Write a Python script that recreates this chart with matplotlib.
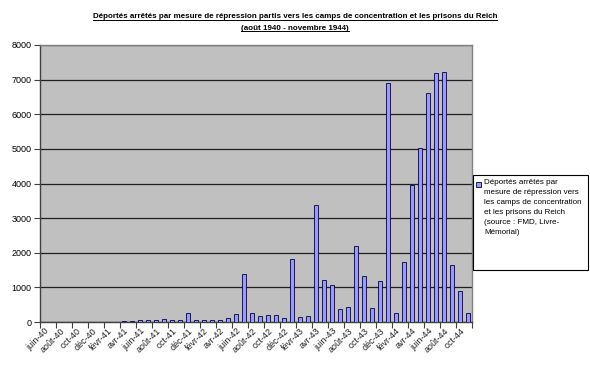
import matplotlib
matplotlib.use("Agg")
import matplotlib.pyplot as plt
from matplotlib.patches import Rectangle
from matplotlib.lines import Line2D

plt.rcParams['font.family'] = ['Liberation Sans', 'DejaVu Sans']

months = ["janv", "févr", "mars", "avr", "mai", "juin", "juil", "août", "sept", "oct", "nov", "déc"]
categories = []
for yr in range(40, 45):
    for m in months:
        categories.append(f"{m}-{yr}")
categories = categories[categories.index("juin-40"):categories.index("nov-44") + 1]

values = [0, 0, 0, 0, 0, 0, 0, 0, 0, 0,
          30, 30, 50, 70, 70, 90, 60, 50, 270, 60,
          60, 60, 60, 105, 230, 1375, 270, 165, 190, 190,
          115, 1810, 145, 175, 3370, 1215, 1070, 375, 433, 2195,
          1320, 395, 1195, 6915, 250, 1735, 3950, 5035, 6605, 7185,
          7225, 1640, 890, 250]

title_lines = ["Déportés arrêtés par mesure de répression partis vers les camps de concentration et les prisons du Reich",
               "(août 1940 - novembre 1944)"]
legend_label = ("Déportés arrêtés par\nmesure de répression vers\nles camps de concentration\n"
                "et les prisons du Reich\n(source : FMD, Livre-\nMémorial)")
yticks = list(range(0, 8001, 1000))

W, H = 590, 367
fig = plt.figure(figsize=(W / 100, H / 100), dpi=100)
fig.patch.set_facecolor("white")
ax = fig.add_axes([40 / W, 1 - 322 / H, 432 / W, 277 / H])
ax.set_facecolor("#C0C0C0")

bar_fc, bar_ec = "#9999FF", "#000040"
x = list(range(len(categories)))
ax.bar(x, values, width=0.4, color=bar_fc, edgecolor=bar_ec, linewidth=0.6, zorder=3)

ax.set_xlim(-0.5, len(categories) - 0.5)
ax.set_ylim(0, 8000)
ax.set_yticks(yticks)
ax.set_yticklabels([str(t) for t in yticks], fontsize=6.5)
ax.yaxis.grid(True, color="#202020", linewidth=0.9, zorder=1)
ax.set_axisbelow(True)

# x tick labels every 2 categories, tick marks at boundaries
ax.set_xticks(x[::2])
ax.set_xticklabels(categories[::2], rotation=45, ha="right", va="top",
                   rotation_mode="anchor", fontsize=6.5, color="#202020")
ax.tick_params(axis="x", length=0, pad=3)
ax.set_xticks([i - 0.5 for i in range(0, len(categories) + 1, 2)], minor=True)
ax.tick_params(axis="x", which="minor", length=4, color="#404040", width=0.8)
ax.tick_params(axis="y", length=4, color="#404040", width=0.8, pad=2)

for s in ax.spines.values():
    s.set_color("#808080")
    s.set_linewidth(1.0)
ax.spines["left"].set_color("#404040")
ax.spines["bottom"].set_color("#404040")

# title with underline
t1 = fig.text(0.5, 1 - 17 / H, title_lines[0], ha="center", va="center", fontsize=5.8,
              fontweight="bold")
t2 = fig.text(0.5, 1 - 28 / H, title_lines[1], ha="center", va="center", fontsize=5.8,
              fontweight="bold")
fig.canvas.draw()
r = fig.canvas.get_renderer()
for t in (t1, t2):
    bb = t.get_window_extent(r)
    yline = bb.y0 + 0.8
    fig.add_artist(Line2D([bb.x0 / W, bb.x1 / W], [yline / H, yline / H],
                          color="black", linewidth=0.7, transform=fig.transFigure))

# manual legend (Excel style)
fig.add_artist(Rectangle((473 / W, 1 - 270 / H), 115 / W, 95 / H, transform=fig.transFigure,
                         facecolor="white", edgecolor="black", linewidth=0.8))
fig.add_artist(Rectangle((476 / W, 1 - 187 / H), 5 / W, 5 / H, transform=fig.transFigure,
                         facecolor=bar_fc, edgecolor=bar_ec, linewidth=0.6))
fig.text(484 / W, 1 - 179 / H, legend_label, ha="left", va="top", fontsize=5.8,
         linespacing=1.6)

fig.savefig("out.png", dpi=100)
